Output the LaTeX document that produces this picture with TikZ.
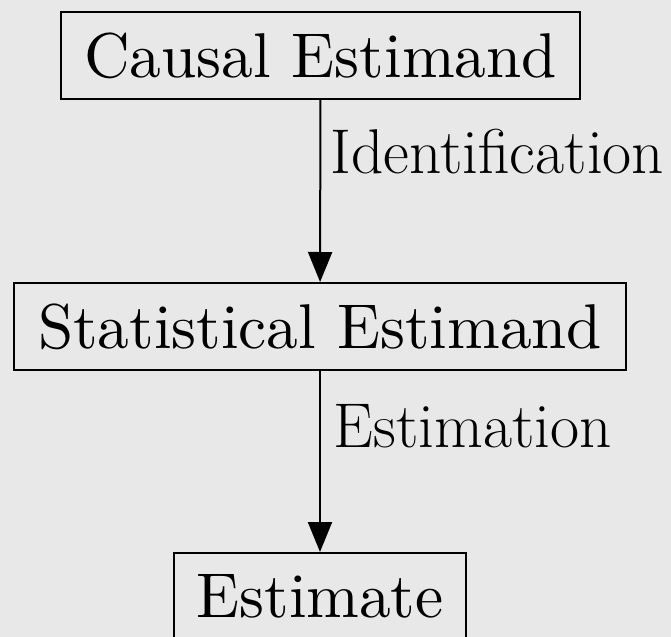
\documentclass[tikz,border=0pt]{standalone}
\usepackage{fontspec}
\setmainfont{Latin Modern Roman}
\newfontfamily\tenroman{lmroman10-regular.otf}
\usetikzlibrary{arrows.meta}
\definecolor{bg}{RGB}{232,232,232}
\tikzset{
  box/.style={draw=black, line width=0.2mm, inner sep=0pt, minimum height=8.7mm,
    font=\tenroman\fontsize{18}{22}\selectfont},
  lbl/.style={anchor=base west, inner sep=0pt, font=\fontsize{18}{22}\selectfont},
  flow/.style={line width=0.2mm, -{Triangle[length=3mm, width=2.4mm]}}
}
\begin{document}
\begin{tikzpicture}[x=0.1mm, y=-0.1mm]
  \fill[bg] (0,0) rectangle (671,637);
  \useasboundingbox (0,0) rectangle (671,637);
  \node[box, minimum width=51.9mm] (ce) at (320.5,55.5) {Causal Estimand};
  \node[box, minimum width=61.2mm] (se) at (320,326.5) {Statistical Estimand};
  \node[box, minimum width=29.2mm] (est) at (320,596.5) {Estimate};
  \draw[flow] (ce) -- (se);
  \draw[flow] (se) -- (est);
  \node[lbl] (idl) at (330,173) {Identification};
  \node[lbl] (eml) at (333,447) {Estimation};
\end{tikzpicture}
\end{document}
